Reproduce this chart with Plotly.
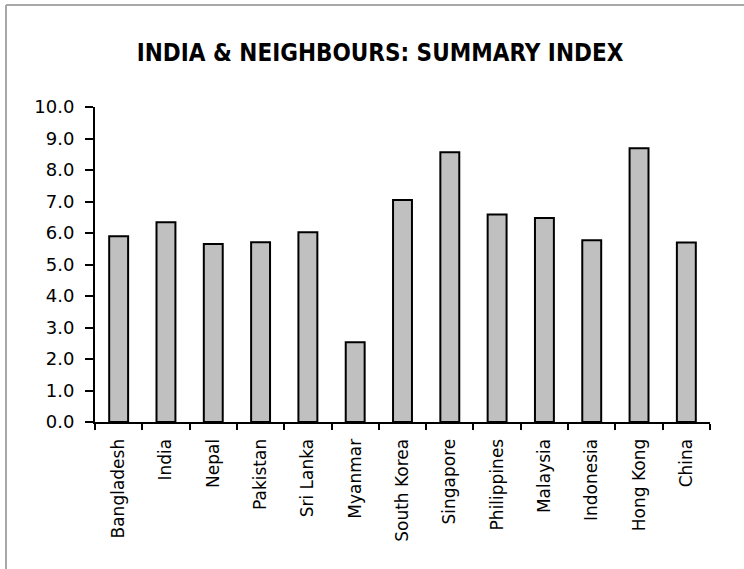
import plotly.graph_objects as go

countries = [
    "Bangladesh", "India", "Nepal", "Pakistan", "Sri Lanka", "Myanmar",
    "South Korea", "Singapore", "Philippines", "Malaysia", "Indonesia",
    "Hong Kong", "China",
]
index_values = [5.90, 6.34, 5.65, 5.71, 6.02, 2.53, 7.05, 8.56, 6.59, 6.48, 5.77, 8.69, 5.70]
y_ticks = [0, 1, 2, 3, 4, 5, 6, 7, 8, 9, 10]

W, H = 744, 569
L, R, T, B = 95, 34, 107, 147

fig = go.Figure(
    data=[
        go.Bar(
            x=countries,
            y=index_values,
            marker=dict(color="#c0c0c0", line=dict(color="black", width=2)),
            width=0.4,
        )
    ]
)

fig.update_layout(
    width=W,
    height=H,
    margin=dict(l=L, r=R, t=T, b=B),
    plot_bgcolor="white",
    paper_bgcolor="white",
    showlegend=False,
    font=dict(family="DejaVu Sans, sans-serif", size=17, color="black"),
    title=dict(
        text="<b>INDIA & NEIGHBOURS: SUMMARY INDEX</b>",
        x=380 / W,
        xanchor="center",
        y=1 - 53 / H,
        yanchor="middle",
        font=dict(family="DejaVu Sans Condensed, DejaVu Sans, sans-serif", size=24),
    ),
)

fig.update_xaxes(
    showline=True,
    linecolor="black",
    linewidth=2,
    ticks="outside",
    ticklen=6,
    tickwidth=2,
    tickcolor="black",
    tickson="boundaries",
    tickangle=-90,
    ticklabelstandoff=8,
    showgrid=False,
    tickfont=dict(size=17),
)
fig.update_yaxes(
    range=[0, 10],
    tickvals=y_ticks,
    tickformat=".1f",
    showline=True,
    linecolor="black",
    linewidth=2,
    ticks="outside",
    ticklen=8,
    tickwidth=2,
    tickcolor="black",
    ticklabelstandoff=7,
    showgrid=False,
    zeroline=False,
    tickfont=dict(size=18),
)

# grey frame on the top and left edges of the page
pl = lambda px: (px - L) / (W - L - R)
pt = lambda py: 1 - (py - T) / (H - T - B)
fig.add_shape(type="line", xref="paper", yref="paper",
              x0=pl(6), x1=pl(W), y0=pt(5), y1=pt(5),
              line=dict(color="#a8a8a8", width=2))
fig.add_shape(type="line", xref="paper", yref="paper",
              x0=pl(6), x1=pl(6), y0=pt(5), y1=pt(H),
              line=dict(color="#a8a8a8", width=2))

fig.write_html(
    "out.html",
    config={"displayModeBar": False},
    post_script="document.body.style.margin='0';",
)
